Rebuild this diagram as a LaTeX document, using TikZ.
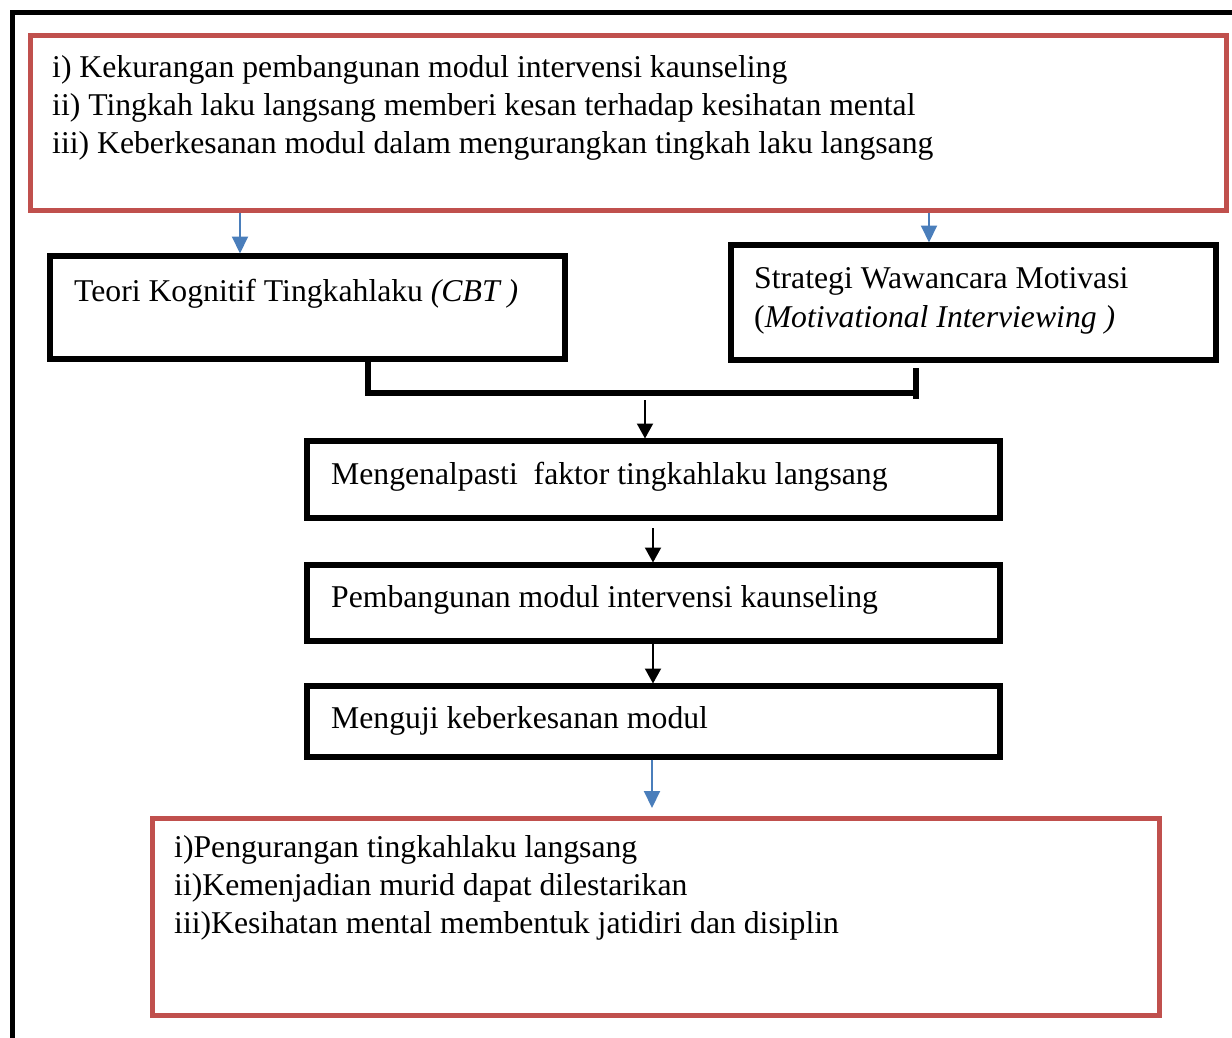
\documentclass[tikz,border=0pt]{standalone}
\usepackage{fontspec}
\setmainfont{Liberation Serif}
\usetikzlibrary{arrows.meta}
\definecolor{boxred}{HTML}{C0504D}
\definecolor{arrowblue}{HTML}{4A7EBB}

\begin{document}
\begin{tikzpicture}[x=1pt,y=-1pt,
    redbox/.style={draw=boxred,line width=5pt,inner sep=0pt,outer sep=0pt,anchor=north west},
    blackbox/.style={draw=black,line width=5.5pt,inner sep=0pt,outer sep=0pt,anchor=north west},
    txt/.style={anchor=base west,inner sep=0pt,font=\fontsize{31.7}{38}\selectfont},
    bluearrow/.style={draw=arrowblue,line width=2pt,-{Triangle[width=16pt,length=17pt]}},
    blackarrow/.style={draw=black,line width=2pt,-{Triangle[width=16pt,length=15pt]}},
    bracket/.style={draw=black,line width=6.5pt}]
        \useasboundingbox (0,0) rectangle (1232,1037);
        \draw[line width=5pt] (12,1045)--(12,12)--(1240,12);
        % boxes
        \node[redbox,minimum width=1196pt,minimum height=175pt] (prob) at (30,35) {};
        \node[blackbox,minimum width=515pt,minimum height=103pt] (cbt) at (50,256) {};
        \node[blackbox,minimum width=485pt,minimum height=115pt] (mi) at (731,245) {};
        \node[blackbox,minimum width=693pt,minimum height=77pt] (id) at (307,441) {};
        \node[blackbox,minimum width=693pt,minimum height=76pt] (dev) at (307,565) {};
        \node[blackbox,minimum width=693pt,minimum height=71pt] (test) at (307,686) {};
        \node[redbox,minimum width=1007pt,minimum height=197pt] (out) at (152,818) {};
        % texts
        \node[txt] (prob1) at (52,77) {i) Kekurangan pembangunan modul intervensi kaunseling};
        \node[txt] (prob2) at (52,115) {ii) Tingkah laku langsang memberi kesan terhadap kesihatan mental};
        \node[txt] (prob3) at (52,153) {iii) Keberkesanan modul dalam mengurangkan tingkah laku langsang};
        \node[txt] (cbt1) at (74,301) {Teori Kognitif Tingkahlaku \textit{(CBT )}};
        \node[txt] (mi1) at (754,288) {Strategi Wawancara Motivasi};
        \node[txt] (mi2) at (754,327) {(\textit{Motivational Interviewing )}};
        \node[txt] (id1) at (331,484) {Mengenalpasti\ \ faktor tingkahlaku langsang};
        \node[txt] (dev1) at (331,607) {Pembangunan modul intervensi kaunseling};
        \node[txt] (test1) at (331,728) {Menguji keberkesanan modul};
        \node[txt] (out1) at (174,857) {i)Pengurangan tingkahlaku langsang};
        \node[txt] (out2) at (174,895) {ii)Kemenjadian murid dapat dilestarikan};
        \node[txt] (out3) at (174,933) {iii)Kesihatan mental membentuk jatidiri dan disiplin};
        % connectors
        \draw[bluearrow] ([yshift=-2.5pt]240,0 |- prob.south) -- ([yshift=2.5pt]240,0 |- cbt.north);
        \draw[bluearrow] ([yshift=-2.5pt]929,0 |- prob.south) -- ([yshift=2.5pt]929,0 |- mi.north);
        \draw[bracket] ([yshift=-2pt]368,0 |- cbt.south) -- (368,393) -- (916,393);
        \draw[bracket] (916,368) -- (916,399);
        \coordinate (join) at (645,400);
        \draw[blackarrow] (join) -- ([yshift=2.5pt]join |- id.north);
        \draw[blackarrow] ([yshift=-10pt]653,0 |- id.south) -- ([yshift=2.5pt]653,0 |- dev.north);
        \draw[blackarrow] ([yshift=-2.5pt]653,0 |- dev.south) -- ([yshift=2.5pt]653,0 |- test.north);
        \draw[bluearrow] ([yshift=-2.5pt]652,0 |- test.south) -- ([yshift=10pt]652,0 |- out.north);
      \end{tikzpicture}
\end{document}
